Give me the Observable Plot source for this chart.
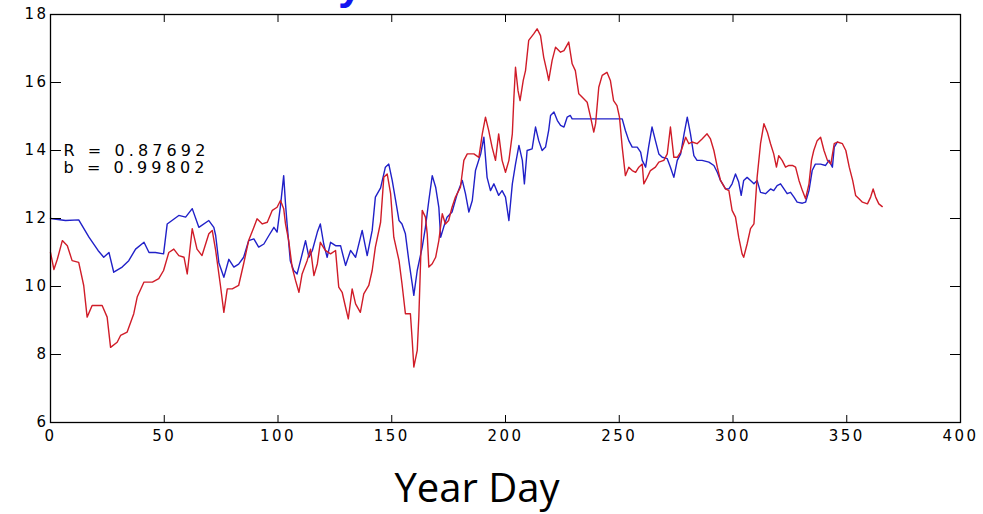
<!DOCTYPE html>
<html>
<head>
<meta charset="utf-8">
<script src="https://cdn.jsdelivr.net/npm/d3@7"></script>
<script src="https://cdn.jsdelivr.net/npm/@observablehq/plot@0.6"></script>
<style>
  html, body { margin: 0; padding: 0; background: #fff; }
  #page { position: relative; width: 983px; height: 514px; overflow: hidden; background: #fff; }
  #chart { position: absolute; left: 0; top: 0; }
  #title { position: absolute; left: 338px; top: -38px; font-family: "Liberation Sans", sans-serif; font-weight: bold; font-size: 44px; line-height: 44px; color: #1414f0; white-space: nowrap; }
  #xlabel { position: absolute; left: 477px; top: 467px; transform: translateX(-50%); font-family: "Open Sans", sans-serif; font-size: 40px; line-height: 40px; color: #000; white-space: nowrap; }
</style>
</head>
<body>
<div id="page">
  <div id="title">y</div>
  <div id="chart"></div>
  <div id="xlabel">Year Day</div>
</div>
<script>
const xTicks = [0, 50, 100, 150, 200, 250, 300, 350, 400];
const yTicks = [6, 8, 10, 12, 14, 16, 18];
const statText = ["R = 0.87692", "b = 0.99802"];
const xLabel = "Year Day";

const blueDay = [0,6.6,12.4,16.9,20.9,23.4,25.7,27.8,31.5,34.4,37.4,41.1,43.3,46.1,49.7,51.3,56.4,59.4,62.3,65.2,69.6,71.8,72.6,74,76.2,78.4,80.6,82.7,84.9,87.1,89.4,91.5,93.8,96,98.2,99.6,101.1,102.5,103.3,104,105.4,106.9,108.4,109.9,112.1,113.6,115.1,117.3,118.6,120.1,121.6,123.1,125.3,127.5,129.7,131.9,134.1,137,139.2,141.4,142.8,145.1,147.2,148.7,150.2,151.7,153.2,154.5,156,157.5,159,159.7,161.2,163.4,164.8,166.3,167.8,169.3,170.7,171.5,172.8,174.3,176.5,178.8,181,182.4,183.9,185.4,186.8,189.1,190.5,191.9,193.4,194.9,197,198.5,200,201.5,203,204.4,205.9,207.4,208.3,209.5,211.7,213.2,214.6,216.1,217.6,219,219.8,221.3,222.8,224.2,225.7,227.1,228.5,229.3,251.3,252.7,254.2,255.7,257.9,259.4,260.1,261.6,262.9,264.4,265.9,267.4,268.9,271.1,272.5,274,275.5,277,278.5,279.9,281.3,282.8,284.2,286.4,289.4,291.6,293.1,294.5,296.7,298.2,299.6,301.1,302.5,303.6,304.7,306.2,307.7,309.2,310.6,312.1,314.3,316.5,317.9,319.4,320.9,322.4,323.8,325.3,326.8,328.2,330.5,331.9,333.4,334.8,336.2,338.5,340.7,342.2,343.7,344.5,345.9];
const blueVal = [12.0,11.94,11.96,11.45,11.06,10.86,11.0,10.42,10.57,10.76,11.1,11.3,11.0,11.0,10.96,11.84,12.09,12.04,12.29,11.74,11.94,11.74,11.5,10.7,10.27,10.8,10.57,10.66,10.86,11.35,11.4,11.16,11.25,11.5,11.74,11.6,12.38,13.26,12.43,11.84,10.76,10.47,10.37,10.76,11.35,10.86,11.06,11.6,11.84,11.25,10.86,11.3,11.2,11.2,10.62,11.06,10.86,11.65,10.91,11.65,12.63,12.9,13.51,13.6,13.12,12.53,11.94,11.84,11.55,10.76,10.08,9.74,10.47,11.16,11.74,12.53,13.26,12.92,12.33,11.45,11.74,12.04,12.19,12.73,13.12,12.73,12.19,12.53,13.41,13.9,14.39,13.21,12.82,13.02,12.68,12.82,12.63,11.94,13.02,13.6,14.15,13.71,13.02,14.0,14.05,14.69,14.29,14.0,14.1,14.6,15.03,15.13,14.88,14.74,14.69,14.98,15.03,14.93,14.93,14.59,14.29,14.1,14.1,13.95,13.71,13.51,14.1,14.69,14.29,13.9,13.8,13.76,13.51,13.21,13.71,13.9,14.49,14.98,14.49,13.85,13.71,13.71,13.66,13.56,13.36,13.12,12.87,12.87,13.02,13.31,13.07,12.68,13.12,13.21,13.12,13.02,13.12,12.77,12.73,12.87,12.82,12.97,13.02,12.87,12.73,12.77,12.63,12.48,12.45,12.48,12.82,13.41,13.6,13.6,13.56,13.71,13.51,14.1,14.25];

const redDay = [0,1.5,3,5.2,7.4,9.5,12.4,14.6,16.1,18.3,22.7,24.9,26.4,29.3,30.8,33.7,36.6,38.1,41.1,44.8,47.6,49.7,52,54.2,56.4,58.7,60.1,62.3,64.4,66.6,69.6,71.1,72.6,74.7,76.2,77.7,79.9,82.7,84.9,87.1,89.4,90.8,93.1,95.3,97.5,99.6,101.1,102.5,103.3,104.7,106.2,107.7,109.2,110.6,112.8,114.3,115.8,117.3,118.6,120.8,123.1,125.3,126.7,128.2,129.7,130.9,132.6,134.1,136.2,137.7,139.9,141.4,142.8,145.1,146.5,148,149.5,150.9,153.2,154.5,156,158.2,159,159.7,161.2,161.9,162.6,163.4,164.8,165.6,166.3,167.8,169.3,170.7,172.2,173.6,175,176.5,178,180.2,181.7,183.2,186.1,188.3,189.8,191.2,192.6,194.1,195.6,197,198.5,200,201.5,203,203.7,204.4,205.5,206.4,207.8,208.8,210.2,212.4,213.9,215.4,216.8,218.3,219,220.5,222,224.2,225.7,227.8,229.3,230.7,232.2,234.4,235.9,237.4,238.8,239.6,241,242.5,244.6,246.1,247.5,249,250.1,251.3,252.7,254.2,255.7,257.2,258.6,260.1,260.8,262.3,263.7,265.9,267.4,269.6,271.1,272.5,274,275.5,277,279.2,280.6,282,284.2,286.4,288.6,290.1,291.6,293.1,294.5,296.7,298.2,299.6,301.1,302.5,304,304.7,306.2,307.7,309.2,310.6,312.1,313.6,315.1,316.5,317.9,319.1,320.1,321.6,323.1,324.6,326.1,327.5,329,330.5,331.9,333.4,334.5,335.5,337,338.5,340,341.5,343,344.5,345.9,348.1,349.6,351.1,352.6,353.9,355.4,356.9,359.1,360.5,361.6,362.7,364.1,365.6];
const redVal = [11.0,10.5,10.8,11.35,11.2,10.76,10.71,10.03,9.1,9.44,9.44,9.1,8.21,8.36,8.56,8.66,9.2,9.69,10.13,10.13,10.23,10.47,11.0,11.1,10.91,10.86,10.37,11.7,11.1,10.91,11.55,11.65,11.06,10.03,9.24,9.93,9.93,10.03,10.67,11.35,11.74,11.99,11.84,11.89,12.24,12.33,12.53,12.29,11.84,11.35,10.57,10.18,9.83,10.37,10.76,11.1,10.32,10.67,11.3,11.06,10.96,11.06,9.98,9.83,9.39,9.05,9.93,9.49,9.24,9.78,10.03,10.47,11.16,11.89,13.21,13.31,12.73,11.45,10.76,10.08,9.2,9.2,8.41,7.63,8.12,9.1,10.57,12.24,12.04,11.55,10.57,10.67,10.86,11.35,12.14,11.84,11.94,12.33,12.63,12.92,13.71,13.9,13.9,13.8,14.49,14.98,14.59,14.1,13.71,14.49,13.71,13.36,13.71,14.49,15.57,16.45,15.76,15.47,16.06,16.35,17.24,17.43,17.58,17.38,16.74,16.3,16.06,16.65,17.04,16.89,16.94,17.19,16.55,16.35,15.67,15.52,15.42,14.98,14.54,14.79,15.86,16.21,16.3,16.06,15.47,15.32,14.98,14.1,13.26,13.51,13.41,13.36,13.51,13.6,13.02,13.21,13.41,13.51,13.66,13.71,13.9,14.69,13.8,13.8,13.95,14.39,14.2,14.25,14.2,14.34,14.49,14.34,14.0,13.51,13.12,12.87,12.82,12.24,12.04,11.45,10.96,10.86,11.25,11.7,11.84,13.21,14.2,14.79,14.54,14.2,13.9,13.51,13.85,13.71,13.51,13.56,13.56,13.51,13.12,12.82,12.58,13.02,13.71,14.0,14.29,14.39,14.0,13.71,13.6,14.2,14.25,14.2,14.0,13.51,13.12,12.68,12.58,12.48,12.43,12.63,12.87,12.63,12.43,12.35];

const blue = blueDay.map((d, i) => ({day: d, value: blueVal[i]}));
const red = redDay.map((d, i) => ({day: d, value: redVal[i]}));

const noText = () => "";

const chart = Plot.plot({
  width: 983,
  height: 450,
  marginTop: 14,
  marginLeft: 50,
  marginRight: 23,
  marginBottom: 28,
  style: {fontFamily: "'DejaVu Sans', sans-serif", fontSize: "15px", color: "#000", background: "transparent", overflow: "visible"},
  x: {domain: [0, 400]},
  y: {domain: [6, 18]},
  marks: [
    Plot.line(blue, {x: "day", y: "value", stroke: "#2020c8", strokeWidth: 1.4}),
    Plot.line(red, {x: "day", y: "value", stroke: "#d01c28", strokeWidth: 1.4}),
    Plot.frame({stroke: "#000", strokeWidth: 1.3}),
    Plot.axisX({ticks: xTicks, anchor: "bottom", tickSize: 0, tickPadding: 8, label: null, fontSize: 15, tickFormat: d => String(d)}),
    Plot.axisY({ticks: yTicks, anchor: "left", tickSize: 0, tickPadding: 2, label: null, fontSize: 15, tickFormat: d => String(d)}),
    Plot.axisX({ticks: xTicks, anchor: "bottom", tickSize: 7, dy: -7, label: null, tickFormat: noText}),
    Plot.axisX({ticks: xTicks, anchor: "top", tickSize: 7, dy: 7, label: null, tickFormat: noText}),
    Plot.axisY({ticks: yTicks, anchor: "left", tickSize: 11, dx: 11, label: null, tickFormat: noText}),
    Plot.axisY({ticks: yTicks, anchor: "right", tickSize: 11, dx: -11, label: null, tickFormat: noText}),
    Plot.text([statText.join("\n")], {x: 5.7, y: 13.75, text: d => d, textAnchor: "start", lineAnchor: "middle", lineHeight: 1.1, fontSize: 16, fill: "#000"})
  ]
});

d3.select(chart).selectAll("g[aria-label='x-axis tick label'] text, g[aria-label='y-axis tick label'] text")
  .style("font-size", "15px").style("font-family", "'DejaVu Sans', sans-serif").attr("letter-spacing", "2.5px");
d3.select(chart).selectAll("g[aria-label='text'] text")
  .style("font-size", "16px").style("font-family", "'DejaVu Sans', sans-serif").attr("letter-spacing", "4.1px");
document.getElementById("chart").appendChild(chart);
document.getElementById("xlabel").textContent = xLabel;
</script>
</body>
</html>
